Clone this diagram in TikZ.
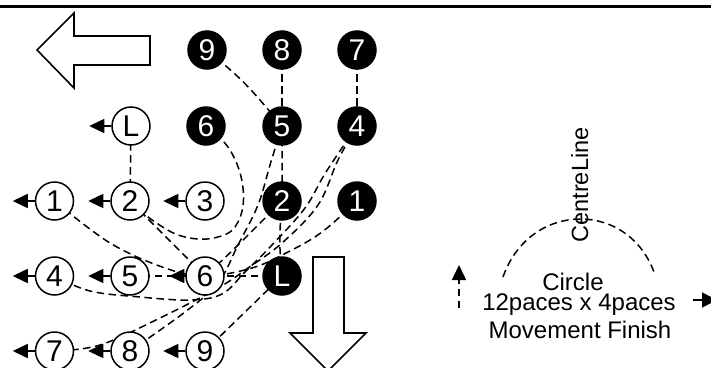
\documentclass[tikz,border=0pt]{standalone}
\usepackage{fontspec}
\setmainfont{Liberation Sans}
\usetikzlibrary{arrows.meta,backgrounds}
\begin{document}
\begin{tikzpicture}[x=1pt,y=-1pt,
  bc/.style={circle,fill=black,draw=black,line width=1.5pt,minimum size=38pt,inner sep=0pt,text=white,font=\fontsize{30}{32}\selectfont},
  wc/.style={circle,fill=white,draw=black,line width=1.5pt,minimum size=38pt,inner sep=0pt,font=\fontsize{30}{32}\selectfont},
  mv/.style={dash pattern=on 7.5pt off 4.5pt,line width=1.5pt},
  la/.style={line width=1.5pt,-{Triangle[length=15pt,width=14pt]}},
  lbl/.style={font=\fontsize{24}{26}\selectfont,anchor=base,inner sep=0pt},
  hollow/.style={line width=1.6pt,draw=black,fill=white}]
\useasboundingbox (0,0) rectangle (711,367);
% top rule
\coordinate (tl1) at (0,6.5);
\coordinate (tl2) at (711,6.5);
\draw[line width=2.2pt] (tl1) -- (tl2);
% big hollow arrows
\draw[hollow] (37,50) -- (74,13) -- (74,36) -- (150,36) -- (150,65) -- (74,65) -- (74,88) -- cycle;
\draw[hollow] (313,257) -- (344,257) -- (344,333) -- (366,333) -- (328,371) -- (290,333) -- (313,333) -- cycle;
% black (start) positions
\node[bc] (B9) at (207,50) {9};
\node[bc] (B8) at (282,50) {8};
\node[bc] (B7) at (357,50) {7};
\node[bc] (B6) at (206,126) {6};
\node[bc] (B5) at (282,126) {5};
\node[bc] (B4) at (357,126) {4};
\node[bc] (B2) at (282,201) {2};
\node[bc] (B1) at (357,201) {1};
\node[bc] (BL) at (282,276) {L};
% white (finish) positions
\node[wc] (WL) at (131,126) {L};
\node[wc] (W1) at (54.5,201) {1};
\node[wc] (W2) at (130,201) {2};
\node[wc] (W3) at (205,201) {3};
\node[wc] (W4) at (54.5,276) {4};
\node[wc] (W5) at (130,276) {5};
\node[wc] (W6) at (205,276) {6};
\node[wc] (W7) at (54.5,351) {7};
\node[wc] (W8) at (130,351) {8};
\node[wc] (W9) at (205,351) {9};
\foreach \n in {WL,W1,W2,W3,W4,W5,W7,W8,W9} \draw[la] (\n.west) -- ++(-22,0);
\draw[la] (W6.west) -- ++(-16,0);
% movement paths
\begin{scope}[on background layer]
\draw[mv] (B9.center) .. controls (245,82) .. (B5.center) -- (B2.center) .. controls (279,240) .. (BL.center) -- (W9.center);
\draw[mv] (B8.center) -- (B5.center);
\draw[mv] plot[smooth,tension=0.6] coordinates {(B5.center) (270,165) (258,205) (238,245) (218,283) (185,312) (W8.center)};
\draw[mv] (B7.center) -- (B4.center);
\draw[mv] plot[smooth,tension=0.6] coordinates {(B4.center) (338,160) (318,205) (282,243) (248,268) (218,288) (160,318) (100,345) (W7.center)};
\draw[mv] plot[smooth,tension=0.6] coordinates {(B4.center) (326,172) (305,208) (272,245) (245,272) (222,294) (190,300) (140,297) (90,291) (W4.center)};
\draw[mv] plot[smooth,tension=0.6] coordinates {(B1.center) (322,232) (288,252) (252,268) (W6.center) (165,268) (110,243) (W1.center)};
\draw[mv] (BL.center) -- (W5.center);
\draw[mv] (B2.center) .. controls (255,228) and (232,252) .. (W6.center) -- (W2.center) -- (WL.center);
\draw[mv] plot[smooth,tension=0.7] coordinates {(B6.center) (230,150) (243,188) (238,222) (218,237) (185,237) (155,222) (W2.center)};
\end{scope}
% right-hand legend
\coordinate (arcL) at (503,277);
\coordinate (arcR) at (655,275);
\draw[mv] (arcL) .. controls (530,200) and (630,200) .. (arcR);
\coordinate (ua1) at (459,308);
\coordinate (ua2) at (459,265);
\draw[mv,-{Triangle[length=15pt,width=14pt]}] (ua1) -- (ua2);
\coordinate (ra1) at (693,300);
\coordinate (ra2) at (717,300);
\draw[line width=1.5pt,-{Triangle[length=15pt,width=15pt]}] (ra1) -- (ra2);
\node[lbl,rotate=90,font=\fontsize{23.5}{25}\selectfont] (tcl) at (588,185) {CentreLine};
\node[lbl] (tcirc) at (573,290.5) {Circle};
\node[lbl] (tpace) at (579,310) {12paces x 4paces};
\node[lbl] (tmove) at (580,338) {Movement Finish};
\end{tikzpicture}
\end{document}
